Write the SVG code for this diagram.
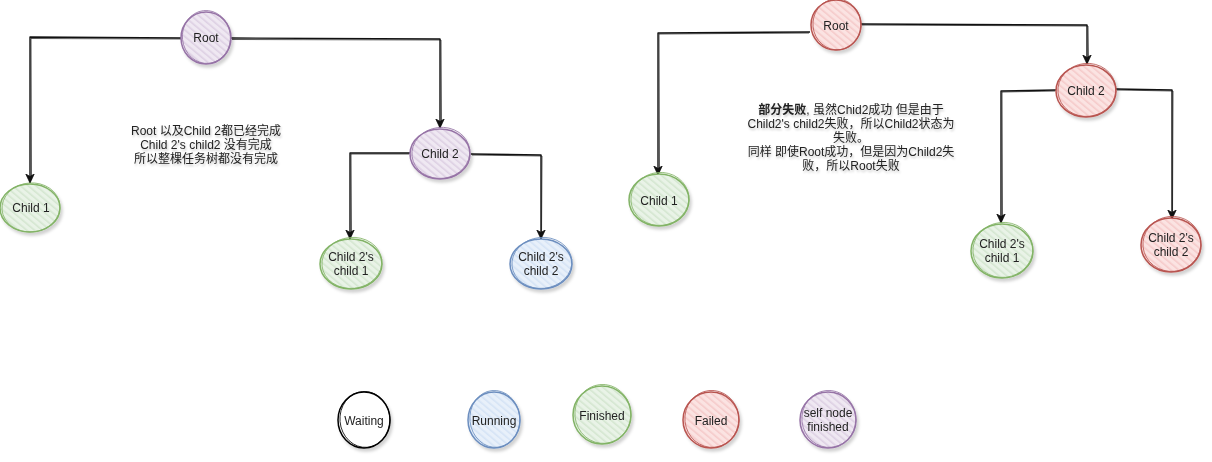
<svg xmlns="http://www.w3.org/2000/svg" width="1212" height="462" viewBox="0 0 1212 462">
<style>
.lbl{font-family:"Liberation Sans",Arial,"Noto Sans CJK SC",sans-serif;font-size:12px;fill:#222;text-anchor:middle}
.note{filter:url(#tsh)}
.edge{fill:none;stroke:#111;stroke-width:1.4;stroke-linejoin:round;marker-end:url(#arr)}
.edge2{fill:none;stroke:#111;stroke-width:0.7}
.n{filter:url(#sh)}
.pu{fill:url(#hPu);stroke:#9673a6;stroke-width:1.5}
.gr{fill:url(#hGr);stroke:#82b366;stroke-width:1.5}
.bl{fill:url(#hBl);stroke:#6c8ebf;stroke-width:1.5}
.rd{fill:url(#hRd);stroke:#b85450;stroke-width:1.5}
.wt{fill:#fff;stroke:#000;stroke-width:1.5}
.o2{fill:none;stroke-width:0.8}
</style>
<defs>
<filter id="sh" x="-30%" y="-30%" width="160%" height="160%"><feDropShadow dx="2" dy="3" stdDeviation="1.8" flood-color="#000" flood-opacity="0.18"/></filter>
<filter id="tsh" x="-10%" y="-30%" width="120%" height="160%"><feDropShadow dx="1" dy="2" stdDeviation="1.2" flood-color="#000" flood-opacity="0.22"/></filter>
<pattern id="hPu" patternUnits="userSpaceOnUse" width="5" height="5" patternTransform="rotate(-50)"><rect width="5" height="5" fill="#efe8f2"/><rect width="1.6" height="5" fill="#ddd0e3"/></pattern>
<pattern id="hGr" patternUnits="userSpaceOnUse" width="5" height="5" patternTransform="rotate(-50)"><rect width="5" height="5" fill="#e9f3e7"/><rect width="1.6" height="5" fill="#d4e6d0"/></pattern>
<pattern id="hBl" patternUnits="userSpaceOnUse" width="5" height="5" patternTransform="rotate(-50)"><rect width="5" height="5" fill="#e8f0fa"/><rect width="1.6" height="5" fill="#d5e3f5"/></pattern>
<pattern id="hRd" patternUnits="userSpaceOnUse" width="5" height="5" patternTransform="rotate(-50)"><rect width="5" height="5" fill="#fbe3e2"/><rect width="1.6" height="5" fill="#f5caca"/></pattern>
<marker id="arr" markerUnits="userSpaceOnUse" markerWidth="10" markerHeight="10" refX="9" refY="5" orient="auto"><path d="M0,0.8 L9,5 L0,9.2 L2.5,5 Z" fill="#111" stroke="#111" stroke-width="0.8"/></marker>
</defs>
<rect width="1212" height="462" fill="#fff"/>

<g id="connectors">
<path class="edge" d="M181,38 L30,37 L30,183"/>
<path class="edge2" d="M182,39 L31,38.5 L31.5,180"/>
<path class="edge" d="M231,38 L440,39 L440,128"/>
<path class="edge2" d="M232,39.5 L441,40 L441.5,125"/>
<path class="edge" d="M410,153 L350,153 L350,239"/>
<path class="edge2" d="M409,154 L351,154 L351.5,236"/>
<path class="edge" d="M471,154 L541,155 L541,239"/>
<path class="edge2" d="M472,155 L542,156 L541.5,236"/>

<path class="edge" d="M810,32 L658,33 L658,175"/>
<path class="edge2" d="M809,33 L659,34 L659.5,172"/>
<path class="edge" d="M861,24 L1087,25 L1087,64"/>
<path class="edge2" d="M862,25 L1088,26 L1088.5,61"/>
<path class="edge" d="M1056,90 L1001,91 L1001,223"/>
<path class="edge2" d="M1055,91 L1002,92 L1002.5,220"/>
<path class="edge" d="M1116,89 L1172,90 L1172,219"/>
<path class="edge2" d="M1117,90 L1173,91 L1172.5,216"/>
</g>

<!-- Left tree -->
<g id="l-root" class="n"><ellipse class="pu" cx="206" cy="38" rx="25" ry="26"/><ellipse class="o2" stroke="#9673a6" cx="206.5" cy="37" rx="24" ry="26.5" transform="rotate(-6 206 38)"/><text class="lbl" x="206" y="42">Root</text></g>
<g id="l-child1" class="n"><ellipse class="gr" cx="30" cy="208" rx="30" ry="24"/><ellipse class="o2" stroke="#82b366" cx="31" cy="207.5" rx="29" ry="24.5" transform="rotate(-5 30 208)"/><text class="lbl" x="31" y="212">Child 1</text></g>
<g id="l-child2" class="n"><ellipse class="pu" cx="440" cy="154" rx="30" ry="25"/><ellipse class="o2" stroke="#9673a6" cx="441" cy="153" rx="29" ry="25.5" transform="rotate(-7 440 154)"/><text class="lbl" x="440" y="158">Child 2</text></g>
<g id="l-c2c1" class="n"><ellipse class="gr" cx="351" cy="264" rx="31" ry="25"/><ellipse class="o2" stroke="#82b366" cx="352" cy="263" rx="30" ry="25.5" transform="rotate(-6 351 264)"/><text class="lbl" x="351" y="261">Child 2's</text><text class="lbl" x="351" y="275">child 1</text></g>
<g id="l-c2c2" class="n"><ellipse class="bl" cx="541" cy="264" rx="31" ry="25"/><ellipse class="o2" stroke="#6c8ebf" cx="542" cy="263" rx="30" ry="25.5" transform="rotate(-6 541 264)"/><text class="lbl" x="541" y="261">Child 2's</text><text class="lbl" x="541" y="275">child 2</text></g>
<g id="l-note" class="note">
<text class="lbl" x="206" y="135">Root 以及Child 2都已经完成</text>
<text class="lbl" x="206" y="149">Child 2's child2 没有完成</text>
<text class="lbl" x="206" y="163">所以整棵任务树都没有完成</text>
</g>

<!-- Right tree -->
<g id="r-root" class="n"><ellipse class="rd" cx="836" cy="25" rx="25" ry="25"/><ellipse class="o2" stroke="#b85450" cx="837" cy="24.5" rx="24" ry="25.5" transform="rotate(-6 836 25)"/><text class="lbl" x="836" y="30">Root</text></g>
<g id="r-child1" class="n"><ellipse class="gr" cx="659" cy="200" rx="30" ry="26"/><ellipse class="o2" stroke="#82b366" cx="660" cy="199" rx="29" ry="26.5" transform="rotate(-6 659 200)"/><text class="lbl" x="659" y="205">Child 1</text></g>
<g id="r-child2" class="n"><ellipse class="rd" cx="1086" cy="91" rx="30" ry="26"/><ellipse class="o2" stroke="#b85450" cx="1087" cy="90" rx="29" ry="26.5" transform="rotate(-6 1086 91)"/><text class="lbl" x="1086" y="95">Child 2</text></g>
<g id="r-c2c1" class="n"><ellipse class="gr" cx="1002" cy="251" rx="31" ry="27"/><ellipse class="o2" stroke="#82b366" cx="1003" cy="250" rx="30" ry="27.5" transform="rotate(-6 1002 251)"/><text class="lbl" x="1002" y="248">Child 2's</text><text class="lbl" x="1002" y="262">child 1</text></g>
<g id="r-c2c2" class="n"><ellipse class="rd" cx="1171" cy="245" rx="30" ry="27"/><ellipse class="o2" stroke="#b85450" cx="1172" cy="244" rx="29" ry="27.5" transform="rotate(-6 1171 245)"/><text class="lbl" x="1171" y="242">Child 2's</text><text class="lbl" x="1171" y="256">child 2</text></g>
<g id="r-note" class="note">
<text class="lbl" x="851" y="114"><tspan font-weight="bold">部分失败</tspan>, 虽然Chid2成功 但是由于</text>
<text class="lbl" x="851" y="128">Child2's child2失败，所以Child2状态为</text>
<text class="lbl" x="851" y="142">失败。</text>
<text class="lbl" x="851" y="156">同样 即使Root成功，但是因为Child2失</text>
<text class="lbl" x="851" y="170">败，所以Root失败</text>
</g>

<!-- Legend -->
<g id="lg-waiting" class="n"><ellipse class="wt" cx="364" cy="420" rx="26" ry="28"/><ellipse class="o2" stroke="#000" cx="365" cy="419.5" rx="25" ry="28" transform="rotate(-5 364 420)"/><text class="lbl" x="364" y="425">Waiting</text></g>
<g id="lg-running" class="n"><ellipse class="bl" cx="494" cy="420" rx="26" ry="28"/><ellipse class="o2" stroke="#6c8ebf" cx="495" cy="419" rx="25" ry="28.5" transform="rotate(-6 494 420)"/><text class="lbl" x="494" y="425">Running</text></g>
<g id="lg-finished" class="n"><ellipse class="gr" cx="602" cy="415" rx="29" ry="29"/><ellipse class="o2" stroke="#82b366" cx="603" cy="414" rx="28" ry="29.5" transform="rotate(-6 602 415)"/><text class="lbl" x="602" y="420">Finished</text></g>
<g id="lg-failed" class="n"><ellipse class="rd" cx="711" cy="420" rx="28" ry="28"/><ellipse class="o2" stroke="#b85450" cx="712" cy="419" rx="27" ry="28.5" transform="rotate(-6 711 420)"/><text class="lbl" x="711" y="425">Failed</text></g>
<g id="lg-self" class="n"><ellipse class="pu" cx="828" cy="420" rx="28" ry="28"/><ellipse class="o2" stroke="#9673a6" cx="829" cy="419" rx="27" ry="28.5" transform="rotate(-6 828 420)"/><text class="lbl" x="828" y="417">self node</text><text class="lbl" x="828" y="431">finished</text></g>
</svg>
